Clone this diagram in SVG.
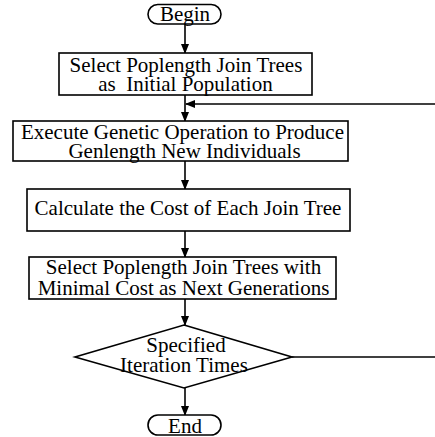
<svg xmlns="http://www.w3.org/2000/svg" width="435" height="437" viewBox="0 0 435 437">
<defs>
<style>
.shape{fill:#fff;stroke:#000;stroke-width:1.6}
.t{font-family:"Liberation Serif","Times New Roman",serif;font-size:21px;fill:#000;text-anchor:middle}
.c{fill:none;stroke:#000;stroke-width:1.6}
</style>
<marker id="ah" markerWidth="10" markerHeight="8" refX="9" refY="4" orient="auto" markerUnits="userSpaceOnUse">
<path d="M0,0 L10,4 L0,8 Z" fill="#000"/>
</marker>
</defs>
<rect width="435" height="437" fill="#fff"/>
<g id="connectors">
<line class="c" x1="185" y1="24" x2="185" y2="53" marker-end="url(#ah)"/>
<line class="c" x1="185" y1="95" x2="185" y2="121" marker-end="url(#ah)"/>
<line class="c" x1="435" y1="104" x2="186" y2="104" marker-end="url(#ah)"/>
<line class="c" x1="185" y1="161" x2="185" y2="189" marker-end="url(#ah)"/>
<line class="c" x1="185" y1="231" x2="185" y2="257" marker-end="url(#ah)"/>
<line class="c" x1="185" y1="299" x2="185" y2="325" marker-end="url(#ah)"/>
<line class="c" x1="292" y1="357" x2="435" y2="357"/>
<line class="c" x1="185" y1="388" x2="185" y2="415" marker-end="url(#ah)"/>
</g>
<g id="begin">
<rect class="shape" x="148" y="4.5" width="73" height="19.5" rx="9.75"/>
<text class="t" x="185" y="21">Begin</text>
</g>
<g id="init">
<rect class="shape" x="59" y="53" width="253" height="42"/>
<text class="t" x="186" y="72">Select Poplength Join Trees</text>
<text class="t" x="185.5" y="91" style="white-space:pre">as  Initial Population</text>
</g>
<g id="genetic">
<rect class="shape" x="13" y="121" width="335" height="40"/>
<text class="t" x="182.5" y="139">Execute Genetic Operation to Produce</text>
<text class="t" x="184.5" y="158">Genlength New Individuals</text>
</g>
<g id="cost">
<rect class="shape" x="27" y="189" width="323" height="42"/>
<text class="t" x="188" y="215">Calculate the Cost of Each Join Tree</text>
</g>
<g id="select">
<rect class="shape" x="29" y="257" width="307" height="42"/>
<text class="t" x="183.5" y="274">Select Poplength Join Trees with</text>
<text class="t" x="183.5" y="295">Minimal Cost as Next Generations</text>
</g>
<g id="decision">
<polygon class="shape" points="184,325 292,357 184,388 75,357"/>
<text class="t" x="186" y="352">Specified</text>
<text class="t" x="184" y="372">Iteration Times</text>
</g>
<g id="end">
<rect class="shape" x="148" y="415" width="73" height="20" rx="10"/>
<text class="t" x="185" y="433">End</text>
</g>
</svg>
